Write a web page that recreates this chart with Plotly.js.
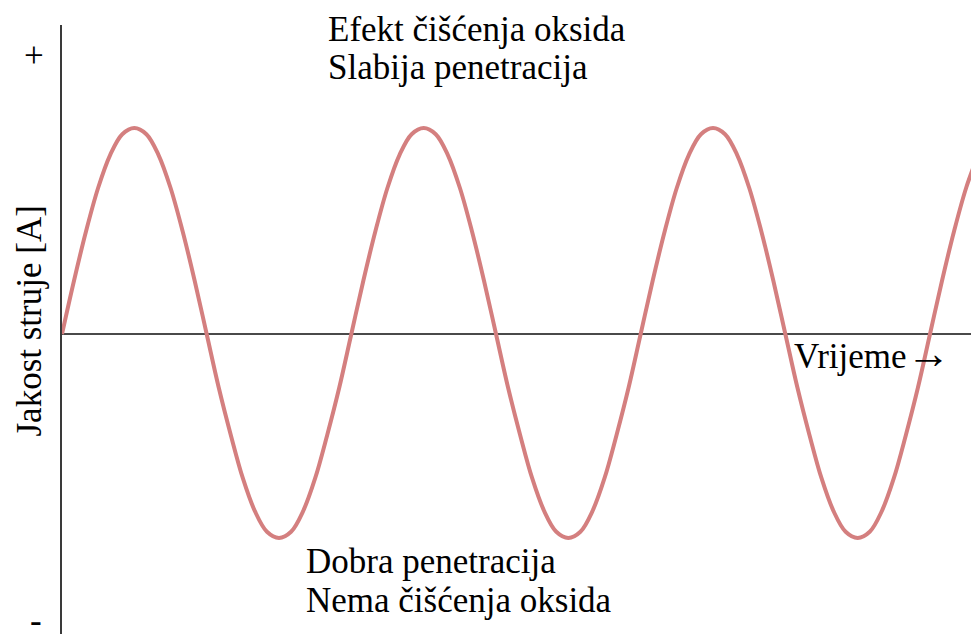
<!DOCTYPE html>
<html>
<head>
<meta charset="utf-8">
<script src="https://cdn.plot.ly/plotly-3.0.1.min.js"></script>
<style>
  html, body { margin: 0; padding: 0; background: #fff; }
  #plot { width: 971px; height: 634px; }
</style>
</head>
<body>
<div id="plot"></div>
<script>
// time steps (24 steps = one period) and current
var vrijeme = [];
for (var i = 0; i <= 76; i++) vrijeme.push(i);
var struja = [
  0, 0.26, 0.5, 0.71, 0.87, 0.97, 1, 0.97, 0.87, 0.71, 0.5, 0.26,
  0, -0.26, -0.49, -0.7, -0.86, -0.96, -0.99, -0.96, -0.86, -0.7, -0.49, -0.26,
  0, 0.26, 0.5, 0.71, 0.87, 0.97, 1, 0.97, 0.87, 0.71, 0.5, 0.26,
  0, -0.26, -0.49, -0.7, -0.86, -0.96, -0.99, -0.96, -0.86, -0.7, -0.49, -0.26,
  0, 0.26, 0.5, 0.71, 0.87, 0.97, 1, 0.97, 0.87, 0.71, 0.5, 0.26,
  0, -0.26, -0.49, -0.7, -0.86, -0.96, -0.99, -0.96, -0.86, -0.7, -0.49, -0.26,
  0, 0.26, 0.5, 0.71, 0.87
];

// text labels
var gornjiTekst = ["Efekt čišćenja oksida", "Slabija penetracija"];
var donjiTekst = ["Dobra penetracija", "Nema čišćenja oksida"];
var polaritet = ["+", "-"];
var xNaslov = "Vrijeme<span style='font-size:44px'>→</span>";
var yNaslov = "Jakost struje [A]";

var W = 971, H = 634, L = 62, T = 25;
var font = "'Liberation Serif', 'Times New Roman', 'DejaVu Serif', serif";

// pixel -> paper helpers for the text boxes
function px(x) { return (x - L) / (W - L); }
function py(y) { return 1 - (y - T) / (H - T); }

function label(text, x, y, xa, ya) {
  return {
    text: text, xref: "paper", yref: "paper",
    x: px(x), y: py(y), xanchor: xa || "left", yanchor: ya || "top",
    showarrow: false, font: {family: font, size: 35, color: "#000"}
  };
}

var trace = {
  x: vrijeme,
  y: struja,
  mode: "lines",
  line: {color: "#d47f7f", width: 4, shape: "spline"},
  hoverinfo: "skip"
};

var yTitle = label(yNaslov, 29, 321.5, "center", "middle");
yTitle.textangle = -90;

// minus sign sits right at the bottom edge, so give it a short box
var minus = label(polaritet[1], 36, 620, "center", "middle");
minus.height = 24;
minus.valign = "middle";

var annotations = [
  label(gornjiTekst[0], 326, 8),
  label(gornjiTekst[1], 326, 46),
  label(donjiTekst[0], 304, 540),
  label(donjiTekst[1], 304, 579),
  label(xNaslov, 792, 327),
  label(polaritet[0], 34, 55, "center", "middle"),
  minus,
  yTitle
];

var layout = {
  width: W,
  height: H,
  margin: {l: L, r: 0, t: T, b: 0},
  paper_bgcolor: "#fff",
  plot_bgcolor: "#fff",
  showlegend: false,
  xaxis: {
    range: [0, 75.4],
    showgrid: false, zeroline: false, showline: false,
    showticklabels: false, ticks: ""
  },
  yaxis: {
    range: [-1.4563, 1.5],
    showgrid: false,
    zeroline: true, zerolinecolor: "#4a4a4a", zerolinewidth: 2,
    showline: true, linecolor: "#3a3a3a", linewidth: 2,
    showticklabels: false, ticks: ""
  },
  annotations: annotations
};

Plotly.newPlot("plot", [trace], layout, {staticPlot: true});
</script>
</body>
</html>
